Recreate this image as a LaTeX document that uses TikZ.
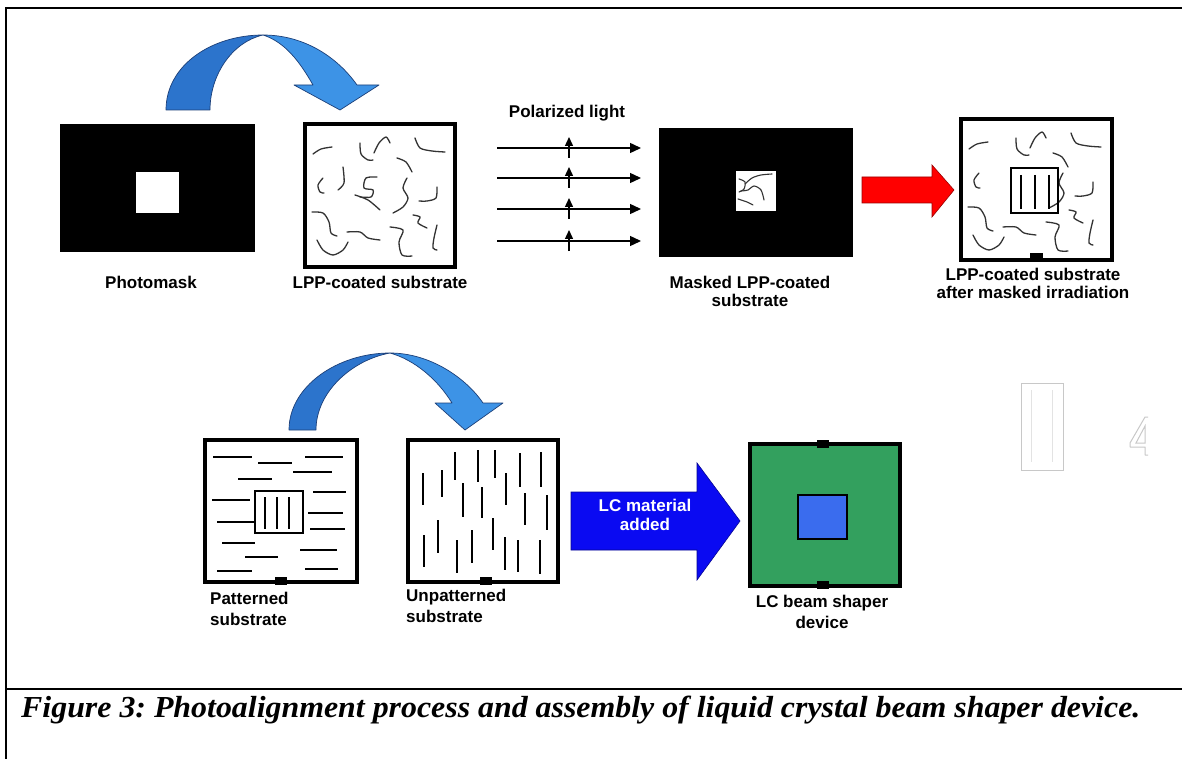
\documentclass[tikz,border=0pt]{standalone}
\usepackage{fontspec}
\setmainfont{Liberation Serif}
\newfontfamily\labelfont{Liberation Sans}
\usetikzlibrary{arrows.meta}
\definecolor{bendDark}{HTML}{2C74CC}
\definecolor{bendLight}{HTML}{3D93E6}
\definecolor{bendEdge}{HTML}{1C3F78}
\definecolor{lcgreen}{HTML}{33A05E}
\definecolor{lcblue}{HTML}{3A6CEE}
\definecolor{pushblue}{HTML}{0A0AF2}
\definecolor{ghost}{HTML}{C8C8C8}

% curl pattern of the LPP layer, outside the central window
\newcommand{\curlsOuter}{%
  \draw[curlline] plot[smooth] coordinates {(313,154) (321,149) (332,147)};
  \draw[curlline] plot[smooth] coordinates {(360,143) (361,154) (368,160) (373,160)};
  \draw[curlline] plot[smooth] coordinates {(374,153) (379,143) (386,137) (390,143)};
  \draw[curlline] plot[smooth] coordinates {(415,138) (420,148) (432,151) (445,152)};
  \draw[curlline] plot[smooth] coordinates {(397,158) (406,162) (412,172)};
  \draw[curlline] plot[smooth] coordinates {(323,178) (318,185) (320,192) (324,193)};
  \draw[curlline] plot[smooth] coordinates {(407,178) (403,188) (408,198) (403,207) (393,213)};
  \draw[curlline] plot[smooth] coordinates {(437,187) (436,198) (427,201) (419,201)};
  \draw[curlline] plot[smooth] coordinates {(312,212) (323,213) (329,222) (331,233) (337,236)};
  \draw[curlline] plot[smooth] coordinates {(317,240) (323,250) (333,255) (343,250) (348,242)};
  \draw[curlline] plot[smooth] coordinates {(347,232) (360,232) (368,238) (380,240)};
  \draw[curlline] plot[smooth] coordinates {(390,227) (403,230) (399,242) (402,255) (412,256)};
  \draw[curlline] plot[smooth] coordinates {(413,215) (420,217) (418,223) (427,228)};
  \draw[curlline] plot[smooth] coordinates {(437,225) (434,238) (433,248) (437,250)};
}
% curls in the middle of the layer
\newcommand{\curlsInner}{%
  \draw[curlline] plot[smooth] coordinates {(343,167) (344,183) (338,190)};
  \draw[curlline] plot[smooth] coordinates {(377,177) (366,178) (364,188) (373,190) (371,197) (360,197)};
  \draw[curlline] plot[smooth] coordinates {(355,195) (368,200) (380,210)};
}

\begin{document}
\begin{tikzpicture}[x=1pt,y=-1pt,
  lbl/.style={font=\labelfont\bfseries\fontsize{17}{18.5}\selectfont, inner sep=0pt, align=center},
  lblwide/.style={lbl, font=\labelfont\bfseries\fontsize{17}{21}\selectfont},
  curlline/.style={line width=1.3pt, draw=black!80, line cap=round},
  frameline/.style={line width=2pt},
  slabbox/.style={draw=black, line width=4.5pt, fill=white},
  linestroke/.style={line width=1.4pt},
  tabmark/.style={fill=black},
  rayline/.style={line width=1.4pt, -{Triangle[length=11pt,width=10pt]}},
  polline/.style={line width=1.4pt, -{Triangle[length=9pt,width=8pt]}},
  curvedarrow/.style={draw=bendEdge, line width=0.7pt, line join=round}]
\useasboundingbox (0,0) rectangle (1182,759);
\fill[white] (0,0) rectangle (1182,759);

% page frame and caption rule
\draw[frameline] (1182,8) -- (6,8) -- (6,759);
\draw[frameline] (6,689) -- (1182,689);

% ---------- top row ----------
% photomask
\fill[black] (60,124) rectangle (255,252);
\fill[white] (136,172) rectangle (179,213);
\node[lbl] (photomask) at (151,282) {Photomask};

% transfer arrow over the top row
\filldraw[curvedarrow, fill=bendDark] (166,110) .. controls (166,65) and (212,35) .. (263,35)
   .. controls (232,42) and (210,75) .. (210,110) -- cycle;
\filldraw[curvedarrow, fill=bendLight] (263,35) .. controls (305,35) and (338,58) .. (357,85)
   -- (379,85) -- (340,110) -- (294,85) -- (313,85)
   .. controls (300,62) and (285,42) .. (263,35) -- cycle;

% LPP-coated substrate
\draw[slabbox] (305,124) rectangle (455,267);
\curlsOuter
\curlsInner
\node[lbl] (lpp) at (380,282) {LPP-coated substrate};

% polarized light
\node[lbl] (pollabel) at (567,113) {Polarized light};
\foreach \yy/\nm in {148/a,178/b,209/c,241/d}{
  \coordinate (r\nm s) at (497,\yy);
  \coordinate (r\nm e) at (641,\yy);
  \coordinate (p\nm s) at (569,\yy+10);
  \coordinate (p\nm e) at (569,\yy-11);
  \draw[rayline] (r\nm s) -- (r\nm e);
  \draw[polline] (p\nm s) -- (p\nm e);
}

% masked LPP-coated substrate
\fill[black] (659,128) rectangle (853,257);
\fill[white] (736,171) rectangle (776,211);
\draw[curlline, line width=1.1pt] plot[smooth] coordinates {(739,179) (745,182) (744,189) (739,192)};
\draw[curlline, line width=1.1pt] plot[smooth] coordinates {(745,184) (752,178) (761,175) (772,174)};
\draw[curlline, line width=1.1pt] plot[smooth] coordinates {(741,191) (748,190) (754,186) (761,190) (764,200)};
\draw[curlline, line width=1.1pt] plot[smooth] coordinates {(738,199) (747,202) (753,205)};
\node[lbl] (masked) at (750,291.5) {Masked LPP-coated\\substrate};

% red step arrow
\filldraw[fill=red, draw=red!60!black, line width=0.6pt]
  (862,177) -- (932,177) -- (932,165) -- (954,190) -- (932,217) -- (932,203) -- (862,203) -- cycle;

% substrate after masked irradiation
\draw[slabbox] (961,119) rectangle (1112,260);
\begin{scope}[shift={(656,-5)}]
  \curlsOuter
\end{scope}
\draw[line width=1.3pt] (1011,168) rectangle (1058,213);
\foreach \xx in {1021,1035,1049}{\draw[linestroke] (\xx,175) -- (\xx,209);}
\fill[tabmark] (1030,253) rectangle (1043,262);
\node[lbl] (irradiated) at (1033,283.5) {LPP-coated substrate\\after masked irradiation};

% ---------- bottom row ----------
% transfer arrow over the bottom row
\filldraw[curvedarrow, fill=bendDark] (289,430) .. controls (289,386) and (338,353) .. (390,353)
   .. controls (352,360) and (316,392) .. (316,430) -- cycle;
\filldraw[curvedarrow, fill=bendLight] (390,353) .. controls (430,353) and (466,378) .. (483,403)
   -- (503,403) -- (465,430) -- (435,403) -- (452,403)
   .. controls (438,380) and (415,360) .. (390,353) -- cycle;

% patterned substrate
\draw[slabbox] (205,440) rectangle (357,582);
\foreach \ya/\xa/\xb in {457/213/252, 463/258/292, 457/305/343, 472/293/332,
    479/238/272, 492/313/346, 500/212/250, 513/308/343, 522/217/255,
    529/310/345, 543/222/255, 550/300/337, 557/245/278, 569/305/338, 571/217/252}{
  \draw[linestroke] (\xa,\ya) -- (\xb,\ya);
}
\draw[line width=1.3pt] (255,491) rectangle (303,533);
\foreach \xx in {265,277,289}{\draw[linestroke] (\xx,497) -- (\xx,529);}
\fill[tabmark] (275,577) rectangle (287,585);
\node[lblwide, align=left, anchor=west] (patterned) at (210,609) {Patterned\\substrate};

% unpatterned substrate
\draw[slabbox] (408,440) rectangle (558,582);
\foreach \xa/\ya/\yb in {423/473/505, 442/470/497, 455/452/480, 463/483/517,
    478/450/482, 482/487/518, 495/450/478, 506/473/505, 520/453/487, 525/493/525,
    438/520/553, 424/535/567, 457/540/573, 472/530/563, 493/518/550, 505/537/570,
    518/540/572, 541/452/487, 547/495/530, 540/540/574}{
  \draw[linestroke] (\xa,\ya) -- (\xa,\yb);
}
\fill[tabmark] (480,577) rectangle (492,585);
\node[lblwide, align=left, anchor=west] (unpatterned) at (406,606) {Unpatterned\\substrate};

% blue assembly arrow
\filldraw[fill=pushblue, draw=pushblue!60!black, line width=0.6pt]
  (571,492) -- (697,492) -- (697,463) -- (740,521) -- (697,580) -- (697,550) -- (571,550) -- cycle;
\node[lbl, text=white] (lcadded) at (645,515) {LC material\\added};

% LC beam shaper device
\draw[draw=black, line width=4.5pt, fill=lcgreen] (750,444) rectangle (900,586);
\draw[draw=black, line width=1.2pt, fill=lcblue] (798,495) rectangle (847,539);
\fill[tabmark] (817,440) rectangle (829,448);
\fill[tabmark] (817,581) rectangle (829,589);
\node[lblwide] (device) at (822,612) {LC beam shaper\\device};

% faint leftover sketch at the right edge
\draw[ghost, line width=1pt] (1021,383) rectangle (1063,470);
\draw[ghost!50, line width=0.8pt] (1031,390) -- (1031,462) (1052,390) -- (1052,462);
\begin{scope}
  \clip (1120,400) rectangle (1148,470);
  \draw[ghost, line width=1pt, line join=round]
    (1130,443) -- (1145,417) -- (1150,417) -- (1150,455) -- (1145,455) -- (1145,447) -- (1130,447) -- cycle;
  \draw[ghost, line width=1pt] (1136,443) -- (1145,426) -- (1145,443) -- cycle;
\end{scope}

% caption, widened to the full line
\node[font=\bfseries\itshape\fontsize{30.5}{34}\selectfont, anchor=base west, inner sep=0pt]
  (caption) at (21,717) {\frenchspacing\resizebox{1119pt}{\height}{Figure 3: Photoalignment process and assembly of liquid crystal beam shaper device.}};
\end{tikzpicture}
\end{document}
